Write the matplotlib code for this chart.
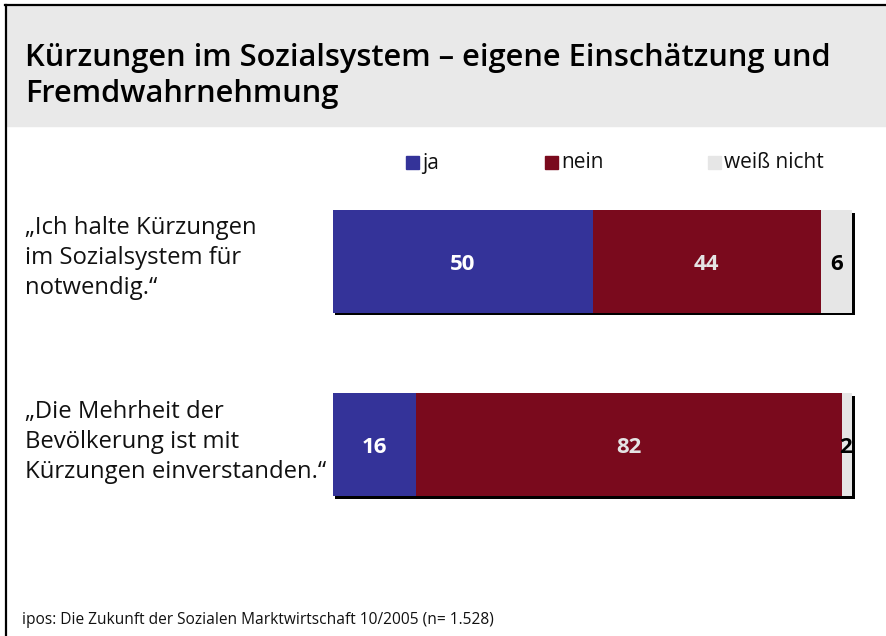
import matplotlib
matplotlib.use("Agg")
import matplotlib.pyplot as plt
from matplotlib.patches import Rectangle
from matplotlib.lines import Line2D
import matplotlib.transforms as mtransforms

plt.rcParams['font.family'] = ['Open Sans', 'DejaVu Sans']

# data
statements = ["„Ich halte Kürzungen\nim Sozialsystem für\nnotwendig.“",
              "„Die Mehrheit der\nBevölkerung ist mit\nKürzungen einverstanden.“"]
answers = ["ja", "nein", "weiß nicht"]
ja = [50, 16]
nein = [44, 82]
weiss_nicht = [6, 2]
colors = ["#343399", "#7a0a1d", "#e6e6e6"]
title = "Kürzungen im Sozialsystem – eigene Einschätzung und\nFremdwahrnehmung"
source = "ipos: Die Zukunft der Sozialen Marktwirtschaft 10/2005 (n= 1.528)"

W, H = 887, 636
fig = plt.figure(figsize=(W / 100, H / 100), dpi=100)

def fx(px):
    return px / W

def fy(py):
    return 1 - py / H

# frame and title band
fig.patches.append(Rectangle((fx(7), fy(126)), fx(W - 7), (126 - 6) / H,
                             transform=fig.transFigure, color="#e9e9e9", zorder=0))
fig.lines.append(Line2D([fx(5), 1], [fy(5), fy(5)], transform=fig.transFigure,
                        color="black", lw=1.6))
fig.lines.append(Line2D([fx(6), fx(6)], [fy(5), 0], transform=fig.transFigure,
                        color="black", lw=1.6))

fig.text(fx(25), fy(76), title, fontsize=22.2, va="center", ha="left",
         linespacing=1.26, color="black", fontweight="semibold")

# bars
ax = fig.add_axes([fx(333), fy(496), fx(852 - 333), (496 - 210) / H])
ax.set_xlim(0, 100)
ax.set_ylim(-0.28, 1.28)
ax.axis("off")

ypos = [1, 0]
bh = 0.56
series = [ja, nein, weiss_nicht]
totals = [a + b + c for a, b, c in zip(ja, nein, weiss_nicht)]

shadow = mtransforms.offset_copy(ax.transData, fig=fig, x=2.5, y=-2.5, units="dots")
for b in ax.barh(ypos, totals, height=bh, color="black", transform=shadow, zorder=1):
    b.set_clip_on(False)

left = [0, 0]
for vals, col in zip(series, colors):
    ax.barh(ypos, vals, left=left, height=bh, color=col, zorder=2)
    left = [l + v for l, v in zip(left, vals)]

# small downward nudge of the value labels, in data units
dy = -0.015
for i, y in enumerate(ypos):
    ax.text(ja[i] / 2, y + dy, str(ja[i]), color="white", fontsize=16,
            fontweight="bold", ha="center", va="center", zorder=3)
    ax.text(ja[i] + nein[i] / 2, y + dy, str(nein[i]), color="#e4e4e4", fontsize=16,
            fontweight="bold", ha="center", va="center", zorder=3)
    if weiss_nicht[i] > 3:
        ax.text(totals[i] - weiss_nicht[i] / 2, y + dy, str(weiss_nicht[i]),
                color="black", fontsize=16, fontweight="bold", ha="center",
                va="center", zorder=3)
    else:
        ax.text(totals[i], y + dy, str(weiss_nicht[i]), color="black", fontsize=16,
                fontweight="bold", ha="right", va="center", zorder=3, clip_on=False)

# statements
label_y = [258, 442]
for s, py in zip(statements, label_y):
    fig.text(fx(25), fy(py), s, fontsize=17.2, ha="left", va="center",
             linespacing=1.36, color="#111111")

# legend
leg_x = [406, 545, 708]
for name, col, px in zip(answers, colors, leg_x):
    fig.patches.append(Rectangle((fx(px), fy(169)), fx(13), 13 / H,
                                 transform=fig.transFigure, color=col))
    fig.text(fx(px + 16), fy(163), name, fontsize=15, ha="left", va="center",
             color="#111111")

fig.text(fx(22), fy(620), source, fontsize=11.2, ha="left", va="center",
         color="#111111")

fig.savefig("out.png", dpi=100)
